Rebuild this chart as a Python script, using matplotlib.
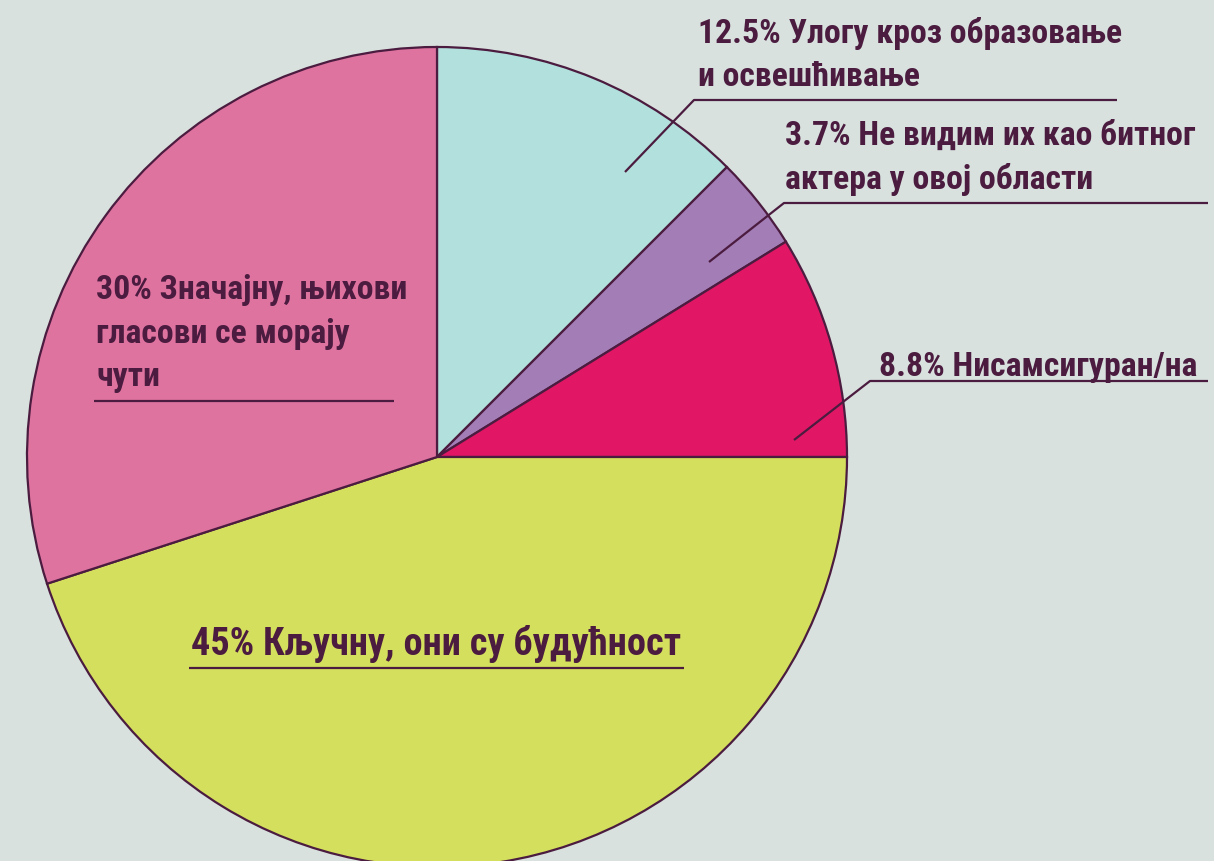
import matplotlib
matplotlib.use("Agg")
from matplotlib import pyplot as plt
from matplotlib import font_manager as fm
from matplotlib import ft2font

# shares (percent), clockwise from the top
shares = [12.5, 3.7, 8.8, 45, 30]
labels = [
    "12.5% Улогу кроз образовање\nи освешћивање",
    "3.7% Не видим их као битног\nактера у овој области",
    "8.8% Нисамсигуран/на",
    "45% Кључну, они су будућност",
    "30% Значајну, њихови\nгласови се морају\nчути",
]
colors = ["#b2e0dc", "#a37db6", "#e11766", "#d4e05d", "#df73a0"]

BG = "#d8e1de"
INK = "#4b1c3f"
W, H = 1214, 861

# find a bold condensed face that has every Cyrillic letter we need
wanted = ["Roboto Condensed", "PT Sans Narrow", "Fira Sans Condensed",
          "IBM Plex Sans Condensed", "Ubuntu Condensed", "Open Sans Condensed",
          "Fira Sans Extra Condensed", "Encode Sans Condensed",
          "Saira SemiCondensed", "Archivo Narrow", "Oswald", "Roboto", "Lato"]
need = set("".join(labels).replace("\n", ""))
font_path = None
for fam in wanted:
    faces = [f for f in fm.fontManager.ttflist
             if f.name == fam and f.style == "normal" and 600 <= int(f.weight) <= 800]
    faces.sort(key=lambda f: abs(int(f.weight) - 700))
    for f in faces:
        try:
            cmap = ft2font.FT2Font(f.fname).get_charmap()
        except Exception:
            continue
        if all(ord(c) in cmap for c in need):
            font_path = f.fname
            break
    if font_path:
        break

if font_path:
    fp = fm.FontProperties(fname=font_path)
else:
    fp = fm.FontProperties(family="DejaVu Sans", weight="bold")

fig = plt.figure(figsize=(W / 100, H / 100), dpi=100, facecolor=BG)
ax = fig.add_axes([0, 0, 1, 1])

cx, cy, r = 437, H - 457, 410
ax.pie(shares, colors=colors, startangle=90, counterclock=False,
       center=(cx, cy), radius=r, frame=True,
       wedgeprops=dict(edgecolor=INK, linewidth=1.6))
ax.set_xlim(0, W)
ax.set_ylim(0, H)
ax.axis("off")

# size the type so two reference lines come out as wide as in the source
renderer = fig.canvas.get_renderer()
def fit(s, target):
    t = ax.text(0, 0, s, fontproperties=fp, fontsize=20)
    w = t.get_window_extent(renderer).width
    t.remove()
    return 20 * target / w

fs_small = fit("3.7% Не видим их као битног", 410)
fs_big = fit("45% Кључну, они су будућност", 488)

# label placement (left x, first baseline y in pixels from top)
place = [(698, 43), (785, 145), (879, 376), (191, 655), (96, 299)]
sizes = [fs_small, fs_small, fs_small, fs_big, fs_small]
step = 43.5
for lab, (x, y), fs in zip(labels, place, sizes):
    for i, line in enumerate(lab.split("\n")):
        ax.text(x, H - (y + i * step), line, fontproperties=fp, fontsize=fs,
                color=INK, ha="left", va="baseline")

# leader lines / underlines
leaders = [
    [(625, 172), (694, 100), (1117, 100)],
    [(709, 262), (784, 203), (1208, 203)],
    [(794, 440), (870, 381), (1208, 381)],
    [(189, 668), (684, 668)],
    [(94, 401), (394, 401)],
]
for pts in leaders:
    xs = [p[0] for p in pts]
    ys = [H - p[1] for p in pts]
    ax.plot(xs, ys, color=INK, linewidth=1.6, solid_capstyle="butt")

fig.savefig("out.png", dpi=100, facecolor=BG)
